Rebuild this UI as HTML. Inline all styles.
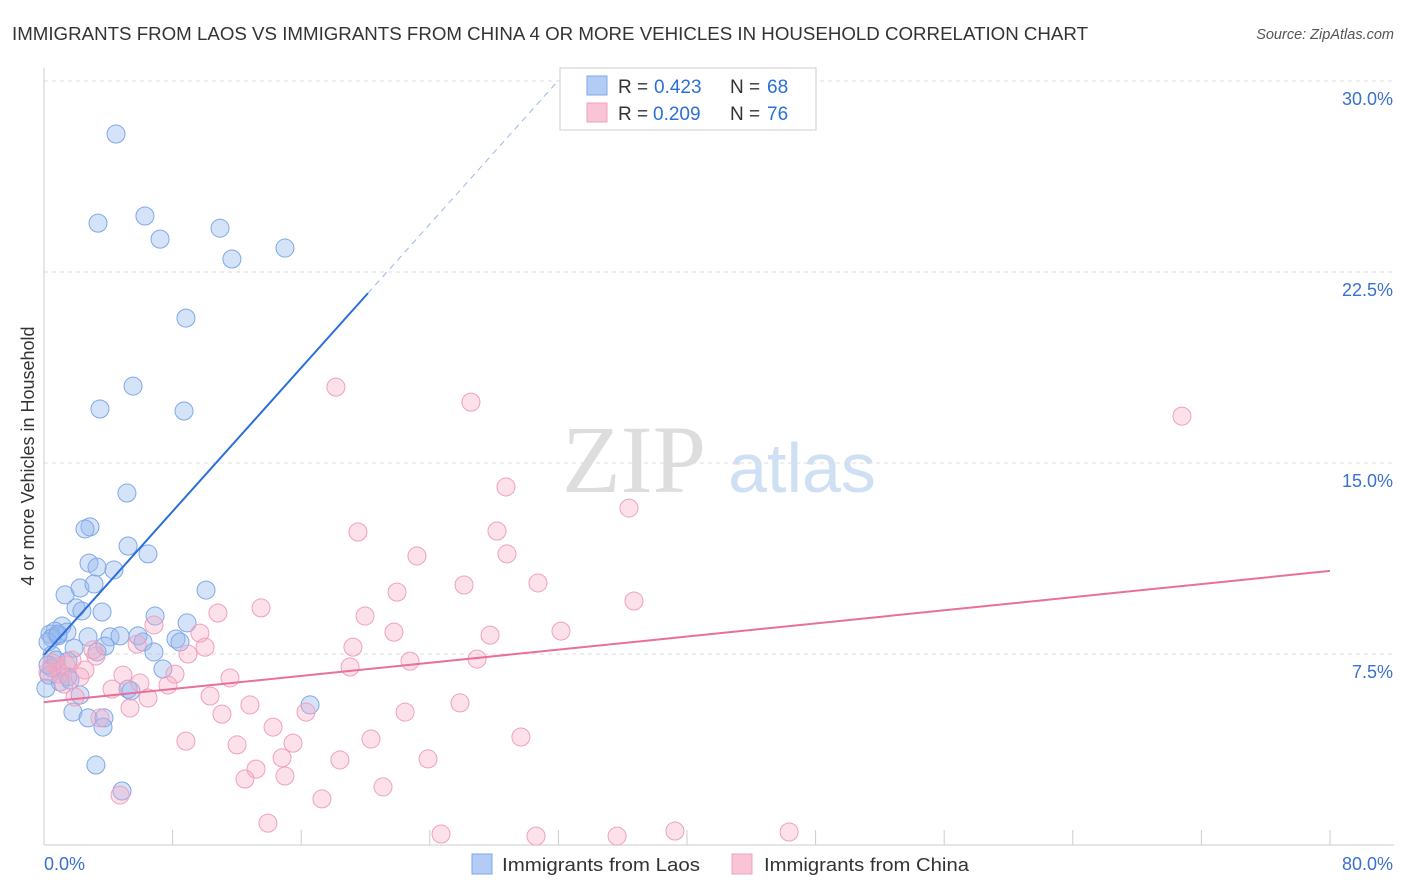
<!DOCTYPE html>
<html><head><meta charset="utf-8">
<style>
body{margin:0;background:#fff;font-family:"Liberation Sans",sans-serif;}
#wrap{position:relative;width:1406px;height:892px;overflow:hidden;}
</style></head>
<body>
<div id="wrap">
<svg id="svg" width="1406" height="892" xmlns="http://www.w3.org/2000/svg">
<text x="12" y="40" font-size="18" fill="#333" textLength="1076" lengthAdjust="spacingAndGlyphs">IMMIGRANTS FROM LAOS VS IMMIGRANTS FROM CHINA 4 OR MORE VEHICLES IN HOUSEHOLD CORRELATION CHART</text>
<text x="1394" y="39" font-size="14.5" fill="#555" font-style="italic" text-anchor="end">Source: ZipAtlas.com</text>
<text x="634" y="492" font-size="96" fill="#ddd" font-family="Liberation Serif,serif" text-anchor="middle">ZIP</text>
<text x="802" y="492" font-size="70" fill="#cfe0f5" text-anchor="middle">atlas</text>
<g id="grid"></g>
<g id="marks"></g>
<text transform="translate(34,456) rotate(-90)" font-size="18" fill="#333" text-anchor="middle">4 or more Vehicles in Household</text>
<g>
<rect x="560" y="68" width="256" height="62" fill="#fff" stroke="#ccc"/>
<rect x="587" y="76" width="20" height="19" fill="#b3ccf5" stroke="#7fa8e6"/>
<rect x="587" y="103" width="20" height="19" fill="#f9c5d6" stroke="#f0a0bc"/>
<g font-size="19">
<text x="618" y="93" fill="#333">R =</text><text x="654" y="93" fill="#2a6fdb">0.423</text>
<text x="730" y="93" fill="#333">N =</text><text x="767" y="93" fill="#2a6fdb">68</text></g>
<g font-size="19">
<text x="618" y="120" fill="#333">R =</text><text x="653" y="120" fill="#2a6fdb">0.209</text>
<text x="730" y="120" fill="#333">N =</text><text x="767" y="120" fill="#2a6fdb">76</text></g>
</g>
<g>
<rect x="472" y="854" width="20" height="20" fill="#b3ccf5" stroke="#7fa8e6"/>
<text x="502" y="871" font-size="18" fill="#333" textLength="198" lengthAdjust="spacingAndGlyphs">Immigrants from Laos</text>
<rect x="732" y="854" width="20" height="20" fill="#f9c5d6" stroke="#f0a0bc"/>
<text x="764" y="871" font-size="18" fill="#333" textLength="205" lengthAdjust="spacingAndGlyphs">Immigrants from China</text>
</g>
</svg>
</div>
<script>
const yTicks=[7.5,15,22.5,30];
const yTickLabels=["7.5%","15.0%","22.5%","30.0%"];
const xTicks=[0,8,16,24,32,40,48,56,64,72,80];
const xTickLabels=["0.0%","80.0%"];
const laosX=[4.48,3.36,6.28,7.22,10.95,11.69,14.99,8.83,5.54,3.48,8.71,5.16,2.86,2.55,5.23,6.47,2.80,4.35,3.30,2.24,3.11,1.31,1.99,2.36,3.61,6.91,8.90,10.08,1.12,0.68,0.37,0.87,1.43,0.50,0.25,2.74,4.11,4.73,5.85,8.21,8.46,6.16,3.79,1.87,3.30,6.84,1.49,7.40,0.50,0.31,1.49,1.00,5.23,5.41,2.24,0.12,16.55,1.80,2.74,3.73,3.67,3.23,4.85,0.50,0.75,0.25,1.62,0.87];
const laosY=[27.92,24.42,24.70,23.79,24.22,23.01,23.44,20.69,18.02,17.12,17.04,13.82,12.49,12.41,11.74,11.43,11.07,10.80,10.91,10.09,10.25,9.82,9.31,9.19,9.15,8.99,8.72,10.01,8.60,8.40,8.28,8.21,8.36,8.13,7.97,8.17,8.17,8.21,8.21,8.09,7.97,7.97,7.81,7.73,7.58,7.58,7.22,6.91,6.95,6.67,6.60,6.40,6.12,6.05,5.89,6.16,5.50,5.22,4.99,4.99,4.63,3.14,2.12,7.46,7.26,7.07,6.48,8.28];
const chinaX=[18.16,26.56,70.79,28.74,36.39,19.53,28.18,23.20,28.80,26.13,30.73,21.96,36.70,10.82,13.50,19.97,32.16,21.77,27.75,9.70,6.84,19.22,10.02,5.79,22.77,26.94,8.96,3.23,19.04,8.15,11.57,4.91,0.81,1.00,1.37,2.55,4.23,7.71,1.24,5.97,6.47,10.33,1.93,25.88,12.81,22.46,16.30,11.07,5.35,3.48,14.25,29.67,20.34,8.83,12.01,15.49,18.41,23.89,14.81,13.19,14.99,12.50,21.09,17.29,4.73,13.93,24.70,30.61,35.65,39.25,46.35,0.50,2.24,0.25,3.05,1.74];
const chinaY=[17.98,17.39,16.84,14.06,13.23,12.29,12.33,11.35,11.43,10.21,10.29,9.93,9.58,9.11,9.31,8.99,8.40,8.36,8.24,8.32,8.64,7.77,7.77,7.89,7.22,7.30,7.50,7.42,6.99,6.71,6.56,6.67,6.99,6.71,7.07,6.87,6.12,6.28,6.32,6.36,5.77,5.85,5.81,5.58,5.50,5.22,5.22,5.14,5.38,4.99,4.63,4.24,4.16,4.08,3.93,4.00,3.34,3.38,3.42,2.98,2.71,2.59,2.28,1.81,1.96,0.86,0.43,0.35,0.35,0.55,0.51,7.15,6.60,6.79,7.66,7.26];
const laosTrend=[7.46,0.705];
const chinaTrend=[5.61,0.0644];

const NS="http://www.w3.org/2000/svg";
const X=v=>44+v*(1286/80);
const Y=v=>845-v*(764/30);
function mk(tag,attrs,parent){const e=document.createElementNS(NS,tag);for(const k in attrs)e.setAttribute(k,attrs[k]);parent.appendChild(e);return e;}
const grid=document.getElementById('grid'),marks=document.getElementById('marks');
yTicks.forEach((t,i)=>{
 const l=mk('line',{x1:44,x2:1394,y1:Y(t),y2:Y(t),stroke:'#ddd','stroke-dasharray':'4,4'},grid);
 
 
 const tx=mk('text',{x:1393,y:Y(t)+24,'font-size':18,fill:'#3a70d0','text-anchor':'end'},grid);
 tx.textContent=yTickLabels[i];
 
 
});
const ax=mk('line',{x1:44,x2:1394,y1:845,y2:845,stroke:'#ccc'},grid);


const ay=mk('line',{x1:44,x2:44,y1:68,y2:845,stroke:'#ccc'},grid);


xTicks.forEach(t=>{
 const l=mk('line',{x1:X(t),x2:X(t),y1:830,y2:845,stroke:'#ccc'},grid);
 
 
});
const xl0=mk('text',{x:44,y:870,'font-size':18,fill:'#3a70d0'},grid);xl0.textContent=xTickLabels[0];


const xl1=mk('text',{x:1393,y:870,'font-size':18,fill:'#3a70d0','text-anchor':'end'},grid);xl1.textContent=xTickLabels[1];



laosX.forEach((v,i)=>{
 const c=mk('circle',{cx:X(v),cy:Y(laosY[i]),r:9,fill:'rgba(150,185,240,0.4)',stroke:'#7fa8e6','stroke-width':1},marks);
 
 
});
chinaX.forEach((v,i)=>{
 const c=mk('circle',{cx:X(v),cy:Y(chinaY[i]),r:9,fill:'rgba(245,170,195,0.35)',stroke:'#f0a0bc','stroke-width':1},marks);
 
 
});
const lx1=20.15,lx2=(30-laosTrend[0])/laosTrend[1];
const bl=mk('line',{x1:X(0),y1:Y(laosTrend[0]),x2:X(lx1),y2:Y(laosTrend[0]+laosTrend[1]*lx1),stroke:'#2a6fdb','stroke-width':2},marks);


const bd=mk('line',{x1:X(lx1),y1:Y(laosTrend[0]+laosTrend[1]*lx1),x2:X(lx2),y2:Y(30),stroke:'#9bb8e8','stroke-width':1,'stroke-dasharray':'6,5'},marks);


const pl=mk('line',{x1:X(0),y1:Y(chinaTrend[0]),x2:X(80),y2:Y(chinaTrend[0]+chinaTrend[1]*80),stroke:'#e8709a','stroke-width':2},marks);


</script>
</body></html>
